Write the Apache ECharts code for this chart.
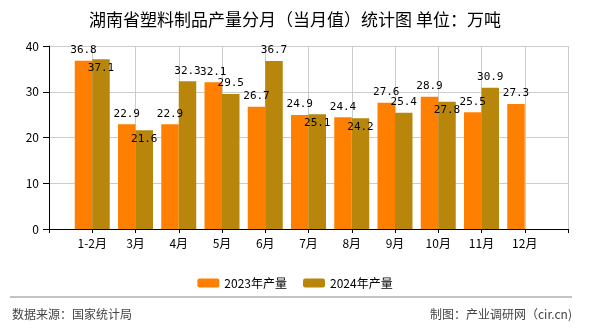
<!DOCTYPE html>
<html>
<head>
<meta charset="utf-8">
<script src="https://cdn.jsdelivr.net/npm/echarts@6/dist/echarts.min.js"></script>
<style>html,body{margin:0;padding:0;background:#fff;}#c{width:590px;height:330px;}</style>
</head>
<body>
<div id="c"></div>
<script>
const titleText = '湖南省塑料制品产量分月（当月值）统计图 单位：万吨';
const categories = ['1-2月','3月','4月','5月','6月','7月','8月','9月','10月','11月','12月'];
const seriesNames = ['2023年产量','2024年产量'];
const values2023 = [36.8, 22.9, 22.9, 32.1, 26.7, 24.9, 24.4, 27.6, 28.9, 25.5, 27.3];
const values2024 = [37.1, 21.6, 32.3, 29.5, 36.7, 25.1, 24.2, 25.4, 27.8, 30.9, null];
const yTicks = [0, 10, 20, 30, 40];
const sourceText = '数据来源：国家统计局';
const creditText = '制图：产业调研网（cir.cn)';

// label placement (style only): 2024 labels drawn inside the bar top for these months
const inside2024 = ['1-2月','3月','7月','8月','10月'];

const cats = [''].concat(categories, ['']);
const mono = 'DejaVu Sans Mono';
const cjk = '"Noto Sans CJK SC", "Noto Sans", sans-serif';

function build(vals, insideList) {
  const arr = [{value: null}];
  vals.forEach((v, i) => {
    const item = {value: v};
    if (insideList && insideList.indexOf(categories[i]) >= 0) {
      item.label = {position: 'insideTop', distance: 3};
    }
    arr.push(item);
  });
  arr.push({value: null});
  return arr;
}

const chart = echarts.init(document.getElementById('c'));
chart.setOption({
  animation: false,
  backgroundColor: '#fff',
  title: {
    text: titleText, left: 'center', top: 6,
    textStyle: {fontSize: 17, fontWeight: 'normal', color: '#000', fontFamily: cjk}
  },
  legend: {
    data: seriesNames, top: 272, left: 'center',
    itemWidth: 22, itemHeight: 9, itemGap: 16,
    textStyle: {fontSize: 12, color: '#000', fontFamily: cjk}
  },
  grid: {left: 49, right: 22, top: 46, bottom: 101, containLabel: false},
  xAxis: {
    type: 'category', data: cats, boundaryGap: false,
    axisLine: {lineStyle: {color: '#000', width: 1}},
    axisTick: {show: true, length: 4, lineStyle: {color: '#000'}},
    axisLabel: {fontSize: 12, color: '#000', fontFamily: cjk, margin: 8, interval: 0},
    splitLine: {show: true, lineStyle: {color: '#ccc', width: 1}}
  },
  yAxis: {
    type: 'value', min: yTicks[0], max: yTicks[yTicks.length-1], interval: 10,
    axisLine: {show: true, lineStyle: {color: '#000', width: 1}},
    axisTick: {show: true, length: 6, lineStyle: {color: '#000'}},
    axisLabel: {fontSize: 12, color: '#000', fontFamily: cjk, margin: 10},
    splitLine: {show: true, lineStyle: {color: '#ccc', width: 1}}
  },
  series: [
    {
      name: seriesNames[0], type: 'bar', data: build(values2023, null),
      barWidth: 17.5, barGap: '0%',
      itemStyle: {color: '#FF8000'},
      label: {show: true, position: 'top', distance: 5, fontSize: 11, color: '#000', fontFamily: mono}
    },
    {
      name: seriesNames[1], type: 'bar', data: build(values2024, inside2024),
      barWidth: 17.5, barGap: '0%',
      itemStyle: {color: '#B8860B'},
      label: {show: true, position: 'top', distance: 5, fontSize: 11, color: '#000', fontFamily: mono}
    }
  ],
  graphic: [
    {type: 'line', shape: {x1: 10, y1: 297, x2: 572, y2: 297}, style: {stroke: '#888', lineWidth: 1}},
    {type: 'text', left: 12, top: 308, style: {text: sourceText, fontSize: 12, fill: '#444', fontFamily: cjk}},
    {type: 'text', right: 18, top: 308, style: {text: creditText, fontSize: 12, fill: '#444', fontFamily: cjk}}
  ]
});
</script>
</body>
</html>
